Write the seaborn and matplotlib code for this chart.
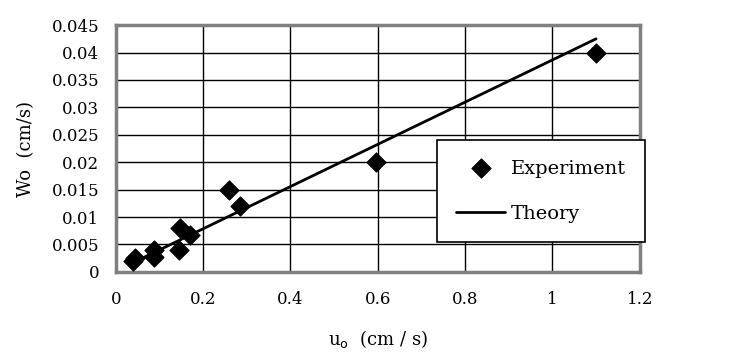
import numpy as np
import pandas as pd
import seaborn as sns
import matplotlib.pyplot as plt

# experiment data
exp_u = [0.04, 0.045, 0.088, 0.088, 0.145, 0.148, 0.17, 0.26, 0.285, 0.595, 1.1]
exp_w = [0.002, 0.0025, 0.0028, 0.004, 0.004, 0.008, 0.0068, 0.015, 0.012, 0.02, 0.04]

# theory line end points
theory_u = [0.04, 1.1]
theory_w = [0.0017, 0.0425]

x_ticks = [0, 0.2, 0.4, 0.6, 0.8, 1, 1.2]
x_labels = ["0", "0.2", "0.4", "0.6", "0.8", "1", "1.2"]
y_ticks = [0, 0.005, 0.01, 0.015, 0.02, 0.025, 0.03, 0.035, 0.04, 0.045]
y_labels = ["0", "0.005", "0.01", "0.015", "0.02", "0.025", "0.03", "0.035", "0.04", "0.045"]

sns.set_style("white")
plt.rcParams['font.family'] = ['DejaVu Serif']
plt.rcParams['text.color'] = 'black'
plt.rcParams['axes.labelcolor'] = 'black'
plt.rcParams['xtick.color'] = 'black'
plt.rcParams['ytick.color'] = 'black'

exp_df = pd.DataFrame({"u": exp_u, "w": exp_w})
th_df = pd.DataFrame({"u": theory_u, "w": theory_w})

fig = plt.figure(figsize=(7.37, 3.64), dpi=100)
ax = fig.add_axes([0.157, 0.253, 0.711, 0.678])

sns.lineplot(data=th_df, x="u", y="w", ax=ax, color="black", linewidth=2, label="Theory", zorder=3)
sns.scatterplot(data=exp_df, x="u", y="w", ax=ax, marker="D", s=95, color="black",
                edgecolor="black", label="Experiment", zorder=4)

ax.set_xlim(0, 1.2)
ax.set_ylim(0, 0.045)
ax.set_xticks(x_ticks)
ax.set_xticklabels(x_labels)
ax.set_yticks(y_ticks)
ax.set_yticklabels(y_labels)
ax.tick_params(axis="x", labelsize=12, length=0, pad=14)
ax.tick_params(axis="y", labelsize=12, length=0, pad=12)
ax.grid(True, color="black", linewidth=1)
ax.set_axisbelow(True)
for sp in ax.spines.values():
    sp.set_color("#808080")
    sp.set_linewidth(2.5)

ax.set_xlabel(r"u$_{\rm o}$  (cm / s)", fontsize=13, labelpad=14)
ax.set_ylabel("Wo  (cm/s)", fontsize=13, labelpad=12)

handles, labels = ax.get_legend_handles_labels()
order = [labels.index("Experiment"), labels.index("Theory")]
leg = ax.legend([handles[i] for i in order], [labels[i] for i in order],
                loc="upper left", bbox_to_anchor=(0.613, 0.534), borderaxespad=0,
                fontsize=14, frameon=True, fancybox=False, edgecolor="black", framealpha=1,
                borderpad=1.0, labelspacing=1.4, handlelength=2.5, handletextpad=0.3)
leg.get_frame().set_linewidth(1.2)
leg.set_zorder(10)
for t in leg.get_texts():
    t.set_color("black")

fig.savefig("out.png", dpi=100)
